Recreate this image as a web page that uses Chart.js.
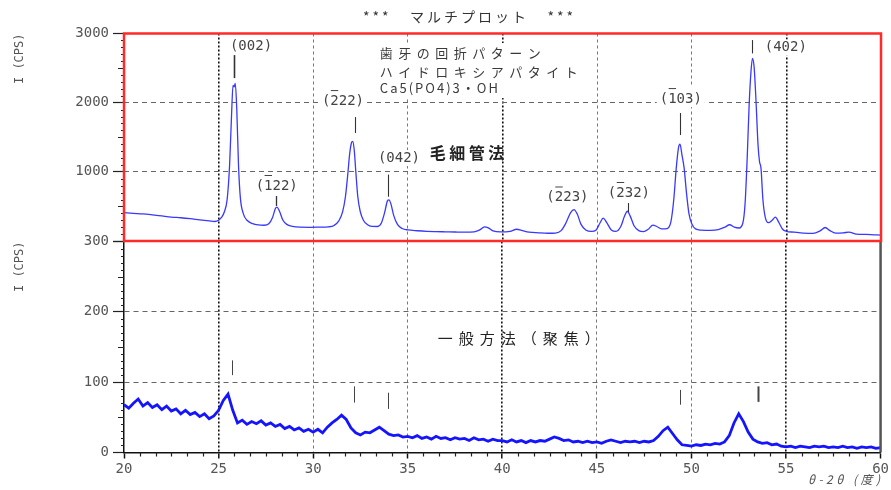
<!DOCTYPE html>
<html><head><meta charset="utf-8">
<script src="https://cdn.jsdelivr.net/npm/chart.js@4.4.1/dist/chart.umd.min.js"></script>
<style>
html,body{margin:0;padding:0;background:#fff;}
#wrap{position:relative;width:891px;height:490px;overflow:hidden;background:#fff;}
canvas{position:absolute;left:0;}
#cTop{top:0;z-index:2;}
#cBot{top:230px;z-index:1;}
</style></head><body>
<div id="wrap">
<canvas id="cBot" width="891" height="260"></canvas>
<canvas id="cTop" width="891" height="245"></canvas>
</div>
<script>
// ---------- data ----------
const chartTitle = '***   マルチプロット   ***';
const yTitle = 'I (CPS)';
const xTitle = 'θ-2θ (度)';

const topTheta = [20.0,20.5,21.0,21.5,22.0,22.5,23.0,23.5,24.0,24.5,24.8,25.0,25.15,25.3,25.45,25.58,25.68,25.76,25.82,25.88,25.96,26.05,26.15,26.3,26.5,26.8,27.1,27.4,27.65,27.85,28.0,28.08,28.2,28.4,28.6,28.9,29.3,29.8,30.3,30.8,31.1,31.35,31.55,31.7,31.82,31.92,32.02,32.08,32.16,32.25,32.35,32.48,32.65,32.85,33.1,33.4,33.6,33.78,33.92,34.0,34.1,34.25,34.45,34.7,35.0,35.5,36.0,36.5,37.0,37.5,38.0,38.5,38.8,39.05,39.25,39.5,39.9,40.4,40.75,41.0,41.4,41.9,42.4,42.8,43.1,43.35,43.6,43.78,43.95,44.15,44.4,44.7,44.95,45.15,45.32,45.5,45.75,46.0,46.25,46.45,46.6,46.75,46.95,47.2,47.45,47.7,47.95,48.15,48.4,48.7,48.9,49.05,49.18,49.3,49.38,49.48,49.6,49.72,49.85,50.0,50.2,50.5,51.0,51.4,51.75,52.0,52.25,52.5,52.7,52.82,52.93,53.03,53.13,53.21,53.3,53.4,53.5,53.58,53.66,53.76,53.88,54.05,54.25,54.42,54.6,54.8,55.0,55.4,55.9,56.4,56.8,57.05,57.3,57.6,58.0,58.3,58.7,59.2,59.6,60.0];
const topIntensity = [409,400,392,378,362,346,336,322,305,290,282,300,340,420,600,1100,1800,2250,2230,2280,1900,1100,620,400,300,250,232,228,250,340,470,490,440,300,240,212,200,198,200,205,225,290,420,640,950,1250,1420,1440,1330,1000,650,430,300,240,212,210,260,420,580,595,540,370,240,180,160,148,140,136,133,130,128,133,160,205,190,145,132,140,170,155,128,118,112,115,150,260,410,455,390,240,160,138,160,260,330,270,160,140,210,360,430,360,220,150,135,170,230,210,175,180,280,600,1050,1350,1400,1250,1050,700,400,250,175,158,155,165,200,235,200,188,260,550,1200,1950,2450,2640,2500,2000,1400,1150,1050,600,350,265,300,345,270,170,140,128,115,110,150,195,150,115,118,128,100,95,90,85];

const bottomTheta = [20.00,20.25,20.50,20.75,21.00,21.25,21.50,21.75,22.00,22.25,22.50,22.75,23.00,23.25,23.50,23.75,24.00,24.25,24.50,24.75,
25.00,25.25,25.50,25.75,26.00,26.25,26.50,26.75,27.00,27.25,27.50,27.75,28.00,28.25,28.50,28.75,29.00,29.25,29.50,29.75,
30.00,30.25,30.50,30.75,31.00,31.25,31.50,31.75,32.00,32.25,32.50,32.75,33.00,33.25,33.50,33.75,34.00,34.25,34.50,34.75,
35.00,35.25,35.50,35.75,36.00,36.25,36.50,36.75,37.00,37.25,37.50,37.75,38.00,38.25,38.50,38.75,39.00,39.25,39.50,39.75,
40.00,40.25,40.50,40.75,41.00,41.25,41.50,41.75,42.00,42.25,42.50,42.75,43.00,43.25,43.50,43.75,44.00,44.25,44.50,44.75,
45.00,45.25,45.50,45.75,46.00,46.25,46.50,46.75,47.00,47.25,47.50,47.75,48.00,48.25,48.50,48.75,49.00,49.25,49.50,49.75,
50.00,50.25,50.50,50.75,51.00,51.25,51.50,51.75,52.00,52.25,52.50,52.75,53.00,53.25,53.50,53.75,54.00,54.25,54.50,54.75,
55.00,55.25,55.50,55.75,56.00,56.25,56.50,56.75,57.00,57.25,57.50,57.75,58.00,58.25,58.50,58.75,59.00,59.25,59.50,59.75,60.00];
const bottomIntensity = [68,63,70,76,66,71,64,68,61,66,59,62,55,60,54,57,51,55,48,52,
60,74,83,60,42,46,40,44,41,45,39,42,37,40,34,37,32,35,30,33,
29,33,28,36,42,47,53,47,35,28,25,29,28,32,36,31,26,24,25,22,
23,21,24,20,22,19,23,20,21,18,21,19,20,17,21,18,19,16,19,17,
17,15,18,15,17,14,17,15,17,16,19,22,20,17,18,15,16,14,16,14,
15,13,16,18,16,14,16,15,16,14,16,15,17,23,31,36,27,18,11,10,
9,11,10,12,11,13,12,15,24,42,55,44,29,19,15,13,14,11,12,9,
8,9,7,9,8,7,9,8,9,7,8,7,9,7,8,6,8,7,8,6,7];

const xMin = 20, xMax = 60, xStep = 5;
const strongGrid = [25, 40, 55];
const topYMax = 3000, topYStep = 1000;
const botYMax = 300, botYStep = 100;

const topLabels = ['(002)','(122)','(222)','(042)','(223)','(232)','(103)','(402)'];
const topLabelBar = [false,true,true,false,true,true,true,false];
const topLabelTheta = [26.71,28.07,31.57,34.53,43.43,46.68,49.42,54.97];
const topLabelI = [2818,795,2023,1199,629,694,2052,2796];
const topMarkTheta = [25.83,28.05,32.2,33.96,46.64,49.37,53.21];
const topMarkFrom = [2355,506,1561,640,419,1532,2712];
const topMarkTo = [2688,650,1792,960,549,1850,2905];
const botMarkTheta = [25.72,32.17,33.96,49.37,53.54];
const botMarkFrom = [110,71,62,68,72];
const botMarkTo = [131,94,85,89,94];

const noteLines = ['歯牙の回折パターン','ハイドロキシアパタイト','Ca5(PO4)3・OH'];
const noteTheta = 33.52;
const noteI = [2717,2442,2211];
const methodTop = '毛細管法', methodTopTheta = 36.16, methodTopI = 1272;
const methodBot = '一般方法（聚焦）', methodBotTheta = 36.59, methodBotI = 163;

// ---------- helpers ----------
const CJK = '"Noto Sans CJK JP","Noto Sans",sans-serif';
const MONO = '"DejaVu Sans Mono","Liberation Mono",monospace';
function spaced(ctx, text, x, y, sp) {
  if ('letterSpacing' in ctx) ctx.letterSpacing = sp + 'px';
  ctx.fillText(text, x, y);
  if ('letterSpacing' in ctx) ctx.letterSpacing = '0px';
}
function gridColor(c) {
  const v = c.tick ? c.tick.value : null;
  if (v === xMin || v === xMax) return 'rgba(0,0,0,0)';
  return strongGrid.includes(v) ? '#111' : '#777';
}
function gridWidth(c) { return c.tick && strongGrid.includes(c.tick.value) ? 1.6 : 1; }
function gridDash(c) {
  if (!c.tick) return [];
  return strongGrid.includes(c.tick.value) ? [2,2] : [3,3];
}
function drawMarks(ctx, xs, ys, th, from, to, color, width) {
  ctx.strokeStyle = color;
  th.forEach((t, i) => {
    const x = Math.round(xs.getPixelForValue(t)) + 0.5;
    ctx.lineWidth = width[i] || width[0];
    ctx.beginPath();
    ctx.moveTo(x, ys.getPixelForValue(from[i]));
    ctx.lineTo(x, ys.getPixelForValue(to[i]));
    ctx.stroke();
  });
}
function minorTicksY(ctx, area, ys, max, step, midStep, skipStep) {
  ctx.strokeStyle = '#222'; ctx.lineWidth = 1;
  for (let v = 0; v <= max + 1e-9; v += step) {
    if (Math.abs(v % skipStep) < 1e-6) continue;
    const len = Math.abs(v % midStep) < 1e-6 ? 6 : 3;
    const y = Math.round(ys.getPixelForValue(v)) + 0.5;
    ctx.beginPath(); ctx.moveTo(area.left - len, y); ctx.lineTo(area.left, y); ctx.stroke();
  }
}
function noPad(s) { s.paddingTop = 0; s.paddingBottom = 0; }

const topPlugin = {
  id: 'topDeco',
  beforeDatasetsDraw(chart) {
    const {ctx} = chart; const xs = chart.scales.x, ys = chart.scales.y;
    ctx.save();
    const nx = xs.getPixelForValue(noteTheta);
    ctx.fillStyle = '#fff';
    ctx.fillRect(nx - 5, ys.getPixelForValue(noteI[0]) - 10, 210, ys.getPixelForValue(noteI[2]) - ys.getPixelForValue(noteI[0]) + 20);
    ctx.fillStyle = '#3a3a3a'; ctx.textBaseline = 'middle'; ctx.textAlign = 'left';
    ctx.font = '13px ' + CJK;
    spaced(ctx, noteLines[0], nx, ys.getPixelForValue(noteI[0]), 5.5);
    spaced(ctx, noteLines[1], nx, ys.getPixelForValue(noteI[1]), 5.5);
    spaced(ctx, noteLines[2], nx, ys.getPixelForValue(noteI[2]), 2);
    ctx.font = '14px ' + MONO;
    topLabels.forEach((t, i) => {
      const cx = xs.getPixelForValue(topLabelTheta[i]);
      const cy = ys.getPixelForValue(topLabelI[i]);
      const w = ctx.measureText(t).width;
      const x0 = cx - w / 2;
      ctx.fillStyle = '#fff';
      ctx.fillRect(x0 - 3, cy - (topLabelBar[i] ? 14 : 8), w + 6, topLabelBar[i] ? 22 : 16);
      ctx.fillStyle = '#444';
      ctx.fillText(t, x0, cy);
      if (topLabelBar[i]) {
        const pw = ctx.measureText('(').width, dw = ctx.measureText(t[1]).width;
        ctx.strokeStyle = '#444'; ctx.lineWidth = 1;
        ctx.beginPath(); ctx.moveTo(x0 + pw + 0.5, cy - 10.5); ctx.lineTo(x0 + pw + dw - 0.5, cy - 10.5); ctx.stroke();
      }
    });
    ctx.restore();
  },
  afterDatasetsDraw(chart) {
    const {ctx, chartArea: a} = chart; const xs = chart.scales.x, ys = chart.scales.y;
    ctx.save();
    ctx.font = 'bold 16px ' + CJK; ctx.fillStyle = '#222'; ctx.textBaseline = 'middle'; ctx.textAlign = 'left';
    spaced(ctx, methodTop, xs.getPixelForValue(methodTopTheta), ys.getPixelForValue(methodTopI), 3.5);
    drawMarks(ctx, xs, ys, topMarkTheta, topMarkFrom, topMarkTo, '#333', [1.6,1.3,1.1,1.1,1.1,1.1,1.1]);
    ctx.font = '14px ' + CJK; ctx.fillStyle = '#333';
    spaced(ctx, chartTitle, 363, 17, 3);
    minorTicksY(ctx, a, ys, topYMax, 100, 500, topYStep);
    ctx.strokeStyle = '#ff2a2a'; ctx.lineWidth = 2.5;
    ctx.strokeRect(a.left, a.top, a.right - a.left, a.bottom - a.top);
    ctx.restore();
  }
};

const botPlugin = {
  id: 'botDeco',
  afterDatasetsDraw(chart) {
    const {ctx, chartArea: a} = chart; const xs = chart.scales.x, ys = chart.scales.y;
    ctx.save();
    ctx.font = '15px ' + CJK; ctx.fillStyle = '#222'; ctx.textBaseline = 'middle'; ctx.textAlign = 'left';
    spaced(ctx, methodBot, xs.getPixelForValue(methodBotTheta), ys.getPixelForValue(methodBotI), 6);
    drawMarks(ctx, xs, ys, botMarkTheta, botMarkFrom, botMarkTo, '#444', [1,1,1,1,2]);
    minorTicksY(ctx, a, ys, botYMax, 10, 50, botYStep);
    ctx.strokeStyle = '#222'; ctx.lineWidth = 1.2;
    for (let k = 0; k < (xMax - xMin) / xStep; k++) {
      for (let j = 1; j < 6; j++) {
        const x = Math.round(xs.getPixelForValue(xMin + k * xStep + j * xStep / 6)) + 0.5;
        ctx.beginPath(); ctx.moveTo(x, a.bottom); ctx.lineTo(x, a.bottom + 4); ctx.stroke();
      }
    }
    ctx.strokeStyle = '#555'; ctx.lineWidth = 2.5;
    ctx.beginPath(); ctx.moveTo(a.right, a.top); ctx.lineTo(a.right, a.bottom); ctx.stroke();
    // x axis title
    ctx.font = 'italic 12px ' + CJK; ctx.fillStyle = '#555'; ctx.textAlign = 'right';
    spaced(ctx, xTitle, a.right + 3, a.bottom + 27, 3.5);
    ctx.restore();
  }
};

Chart.defaults.font.family = MONO;
Chart.defaults.color = '#555';

new Chart(document.getElementById('cTop'), {
  type: 'line',
  data: { datasets: [{
    data: topTheta.map((t, i) => ({x: t, y: topIntensity[i]})),
    borderColor: '#3838ff', borderWidth: 1.3, pointRadius: 0, cubicInterpolationMode: 'monotone', fill: false
  }]},
  options: {
    responsive: false, animation: false, devicePixelRatio: 1,
    layout: { padding: { left: 0, right: 10, top: 33.5, bottom: 4 } },
    plugins: { legend: { display: false }, tooltip: { enabled: false }, title: { display: false } },
    scales: {
      x: {
        type: 'linear', min: xMin, max: xMax,
        ticks: { display: false, stepSize: xStep, autoSkip: false },
        grid: { color: gridColor, lineWidth: gridWidth, drawTicks: false },
        border: { display: false, dash: gridDash },
        afterFit: s => { s.height = 0; s.paddingLeft = 0; s.paddingRight = 0; }
      },
      y: {
        min: 0, max: topYMax,
        ticks: { stepSize: topYStep, padding: 4, font: { size: 14 }, color: '#555',
                 callback: v => (v === 0 ? '' : String(v)) },
        grid: { color: c => (c.tick && (c.tick.value === 0 || c.tick.value === topYMax)) ? 'rgba(0,0,0,0)' : '#666',
                tickColor: '#222', tickLength: 11, tickWidth: 1.2 },
        border: { display: false, dash: c => (c.tick ? [5,4] : []) },
        title: { display: true, text: yTitle, align: 'end', color: '#555', font: { size: 12 }, padding: { top: 13, bottom: 0 } },
        afterFit: s => { s.width = 124; noPad(s); }
      }
    }
  },
  plugins: [topPlugin]
});

new Chart(document.getElementById('cBot'), {
  type: 'line',
  data: { datasets: [{
    data: bottomTheta.map((t, i) => ({x: t, y: bottomIntensity[i]})),
    borderColor: '#1414ff', borderWidth: 2.8, pointRadius: 0, tension: 0, fill: false
  }]},
  options: {
    responsive: false, animation: false, devicePixelRatio: 1,
    layout: { padding: { left: 0, right: 10, top: 11.5, bottom: 0 } },
    plugins: { legend: { display: false }, tooltip: { enabled: false }, title: { display: false } },
    scales: {
      x: {
        type: 'linear', min: xMin, max: xMax,
        ticks: { stepSize: xStep, autoSkip: false, maxRotation: 0, padding: 2, font: { size: 14 }, color: '#555' },
        grid: { color: gridColor, lineWidth: gridWidth, tickColor: '#111', tickLength: 6, tickWidth: 1.5 },
        border: { display: true, color: '#111', width: 1.5, dash: gridDash },
        afterFit: s => { s.height = 37.5; }
      },
      y: {
        min: 0, max: botYMax,
        ticks: { stepSize: botYStep, padding: 4, font: { size: 14 }, color: '#555' },
        grid: { color: c => (c.tick && (c.tick.value === 0 || c.tick.value === botYMax)) ? 'rgba(0,0,0,0)' : '#666',
                tickColor: '#222', tickLength: 11, tickWidth: 1.2 },
        border: { display: true, color: '#111', width: 1.5, dash: c => (c.tick ? [5,4] : []) },
        title: { display: true, text: yTitle, align: 'end', color: '#555', font: { size: 12 }, padding: { top: 13, bottom: 0 } },
        afterFit: s => { s.width = 124; noPad(s); }
      }
    }
  },
  plugins: [botPlugin]
});
</script>
</body></html>
